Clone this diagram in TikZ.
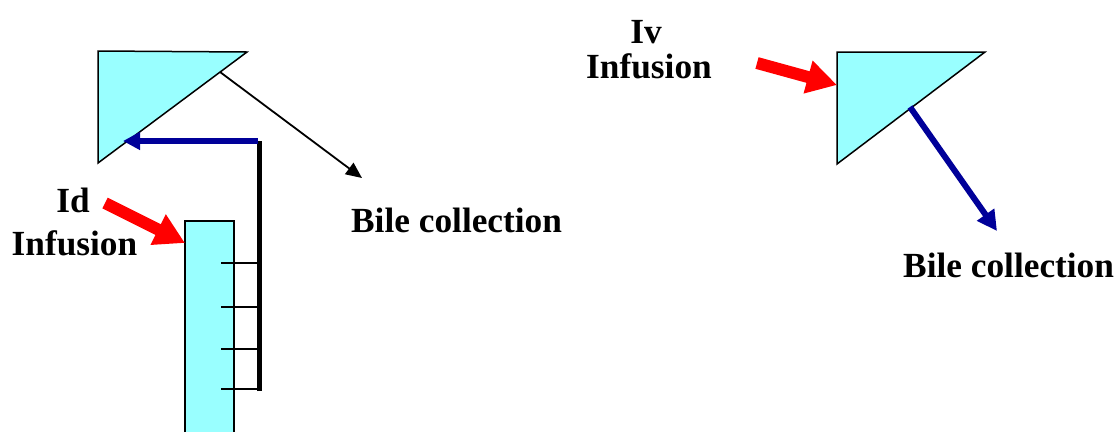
\documentclass[tikz,border=0pt]{standalone}
\usepackage{fontspec}
\setmainfont{Liberation Serif}
\usetikzlibrary{arrows.meta}
\definecolor{organ}{HTML}{99FFFF}
\definecolor{navy}{HTML}{000099}
\tikzset{
  organshape/.style={draw=black, fill=organ, line width=1.5pt, line join=miter},
  lbl/.style={font=\fontsize{35.3}{40}\selectfont\bfseries, inner sep=0pt},
  infarrow/.style={draw=red, line width=12pt, -{Triangle[length=30pt,width=32pt]}},
  bilearrow/.style={draw=navy, line width=5.5pt, -{Triangle[length=17pt,width=17pt]}},
  thinarrow/.style={draw=black, line width=1.8pt, -{Triangle[length=16pt,width=14pt]}},
  tick/.style={draw=black, line width=1.5pt},
}
\begin{document}
\begin{tikzpicture}[x=1pt,y=-1pt]
\useasboundingbox (0,0) rectangle (1119,432);
% left liver
\coordinate (L1) at (98,51);
\coordinate (L2) at (247,52);
\coordinate (L3) at (98,163);
\draw[organshape] (L1) -- (L2) -- (L3) -- cycle;
% intestine
\fill[organ] (185,221) rectangle (234,432);
\draw[black, line width=1.5pt] (185,432) -- (185,221) -- (234,221) -- (234,432);
% ticks and collecting line
\coordinate (T1a) at (221,263); \coordinate (T1b) at (258,263);
\coordinate (T2a) at (221,307); \coordinate (T2b) at (258,307);
\coordinate (T3a) at (221,349); \coordinate (T3b) at (258,349);
\coordinate (T4a) at (221,389); \coordinate (T4b) at (258,389);
\draw[tick] (T1a) -- (T1b);
\draw[tick] (T2a) -- (T2b);
\draw[tick] (T3a) -- (T3b);
\draw[tick] (T4a) -- (T4b);
\coordinate (Ctop) at (258,141);
\draw[black, line width=4.5pt] (259.5,391) -- (259.5,141);
\coordinate (Lin) at (123,141);
\draw[bilearrow] (Ctop) -- (Lin);
% bile collection left
\coordinate (Lout) at (220,72);
\coordinate (Lbile) at (362,178);
\draw[thinarrow] (Lout) -- (Lbile);
\node[lbl, anchor=base west] (bileL) at (351,232) {Bile collection};
% Id infusion
\node[lbl, anchor=base] (id) at (73,212) {Id};
\node[lbl, anchor=base] (infL) at (74.5,255) {Infusion};
\coordinate (idTail) at (105,203);
\coordinate (idTip) at (185,243);
\draw[infarrow] (idTail) -- (idTip);
% right liver
\coordinate (R1) at (837,52);
\coordinate (R2) at (985,52);
\coordinate (R3) at (837,164);
\draw[organshape] (R1) -- (R2) -- (R3) -- cycle;
\node[lbl, anchor=base] (iv) at (646,43) {Iv};
\node[lbl, anchor=base] (infR) at (649,78) {Infusion};
\coordinate (ivTail) at (757,63);
\coordinate (ivTip) at (837,85);
\draw[infarrow] (ivTail) -- (ivTip);
\coordinate (Rout) at (910,107);
\coordinate (Rbile) at (997,231);
\draw[bilearrow, line width=6pt, -{Triangle[length=20pt,width=20pt]}] (Rout) -- (Rbile);
\node[lbl, anchor=base west] (bileR) at (903,277) {Bile collection};
\end{tikzpicture}
\end{document}
